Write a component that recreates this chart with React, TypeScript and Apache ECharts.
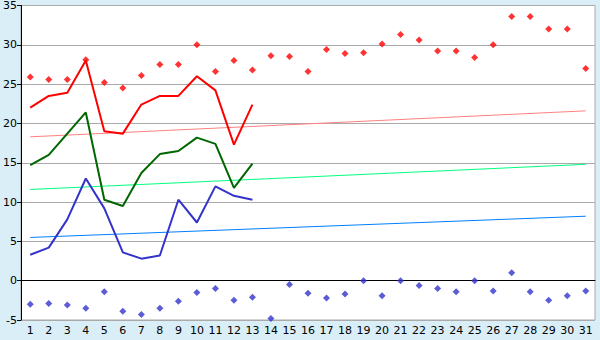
import React, { useEffect, useRef } from "react";
import * as echarts from "echarts";

const days = Array.from({ length: 31 }, (_, i) => String(i + 1));

const maxPoints = [25.9, 25.6, 25.6, 28.1, 25.2, 24.5, 26.1, 27.5, 27.5, 30.0, 26.6, 28.0, 26.8, 28.6, 28.5, 26.6, 29.4, 28.9, 29.0, 30.1, 31.3, 30.6, 29.2, 29.2, 28.4, 30.0, 33.6, 33.6, 32.0, 32.0, 27.0];
const minPoints = [-3.0, -2.9, -3.1, -3.5, -1.4, -3.9, -4.3, -3.5, -2.6, -1.5, -1.0, -2.5, -2.1, -4.8, -0.5, -1.6, -2.2, -1.7, 0.0, -1.9, 0.0, -0.6, -1.0, -1.4, 0.0, -1.3, 1.0, -1.4, -2.5, -1.9, -1.3];
const redLine = [22.0, 23.5, 23.9, 28.0, 19.0, 18.7, 22.4, 23.5, 23.5, 26.0, 24.2, 17.3, 22.4];
const greenLine = [14.7, 16.0, 18.7, 21.4, 10.3, 9.5, 13.7, 16.1, 16.5, 18.2, 17.4, 11.8, 14.9];
const blueLine = [3.3, 4.2, 7.8, 13.0, 9.2, 3.6, 2.8, 3.2, 10.3, 7.4, 12.0, 10.8, 10.3];
const redTrend = [["1", 18.3], ["31", 21.6]];
const greenTrend = [["1", 11.6], ["31", 14.8]];
const blueTrend = [["1", 5.5], ["31", 8.2]];

export default function App() {
  const ref = useRef<HTMLDivElement>(null);
  useEffect(() => {
    document.body.style.margin = "0";
    const chart = echarts.init(ref.current!, null, { renderer: "svg" });
    const font = "DejaVu Sans";
    chart.setOption({
      animation: false,
      backgroundColor: "#d9eef6",
      grid: {
        left: 20,
        right: 5,
        top: 5,
        bottom: 20,
        show: true,
        backgroundColor: "#ffffff",
        borderColor: "#aaaaaa",
        borderWidth: 1,
      },
      xAxis: {
        type: "category",
        data: days,
        boundaryGap: true,
        axisLine: { lineStyle: { color: "#000", width: 1 } },
        axisTick: { alignWithLabel: true, length: 4, lineStyle: { color: "#000" } },
        axisLabel: { color: "#000", fontFamily: font, fontSize: 11, margin: 5, interval: 0 },
        splitLine: { show: false },
      },
      yAxis: {
        type: "value",
        min: -5,
        max: 35,
        interval: 5,
        axisLine: { show: true, lineStyle: { color: "#000", width: 1 } },
        axisTick: { show: true, length: 4, lineStyle: { color: "#000" } },
        axisLabel: { color: "#000", fontFamily: font, fontSize: 11, margin: 4 },
        splitLine: { show: true, lineStyle: { color: "#aaaaaa", width: 1 } },
      },
      series: [
        { type: "line", data: redTrend, symbol: "none", lineStyle: { color: "#ff8080", width: 1 }, z: 1 },
        { type: "line", data: greenTrend, symbol: "none", lineStyle: { color: "#00ff80", width: 1 }, z: 1 },
        { type: "line", data: blueTrend, symbol: "none", lineStyle: { color: "#0080ff", width: 1 }, z: 1 },
        { type: "line", data: redLine, symbol: "none", lineStyle: { color: "#ff0000", width: 2 }, z: 2 },
        { type: "line", data: greenLine, symbol: "none", lineStyle: { color: "#006600", width: 2 }, z: 2 },
        { type: "line", data: blueLine, symbol: "none", lineStyle: { color: "#3333cc", width: 2 }, z: 2 },
        { type: "scatter", data: maxPoints, symbol: "diamond", symbolSize: 7, itemStyle: { color: "#ff0000" }, z: 3 },
        { type: "scatter", data: minPoints, symbol: "diamond", symbolSize: 7, itemStyle: { color: "#3333cc" }, z: 3 },
      ],
    });
    return () => chart.dispose();
  }, []);
  return <div ref={ref} style={{ width: 600, height: 340 }} />;
}
